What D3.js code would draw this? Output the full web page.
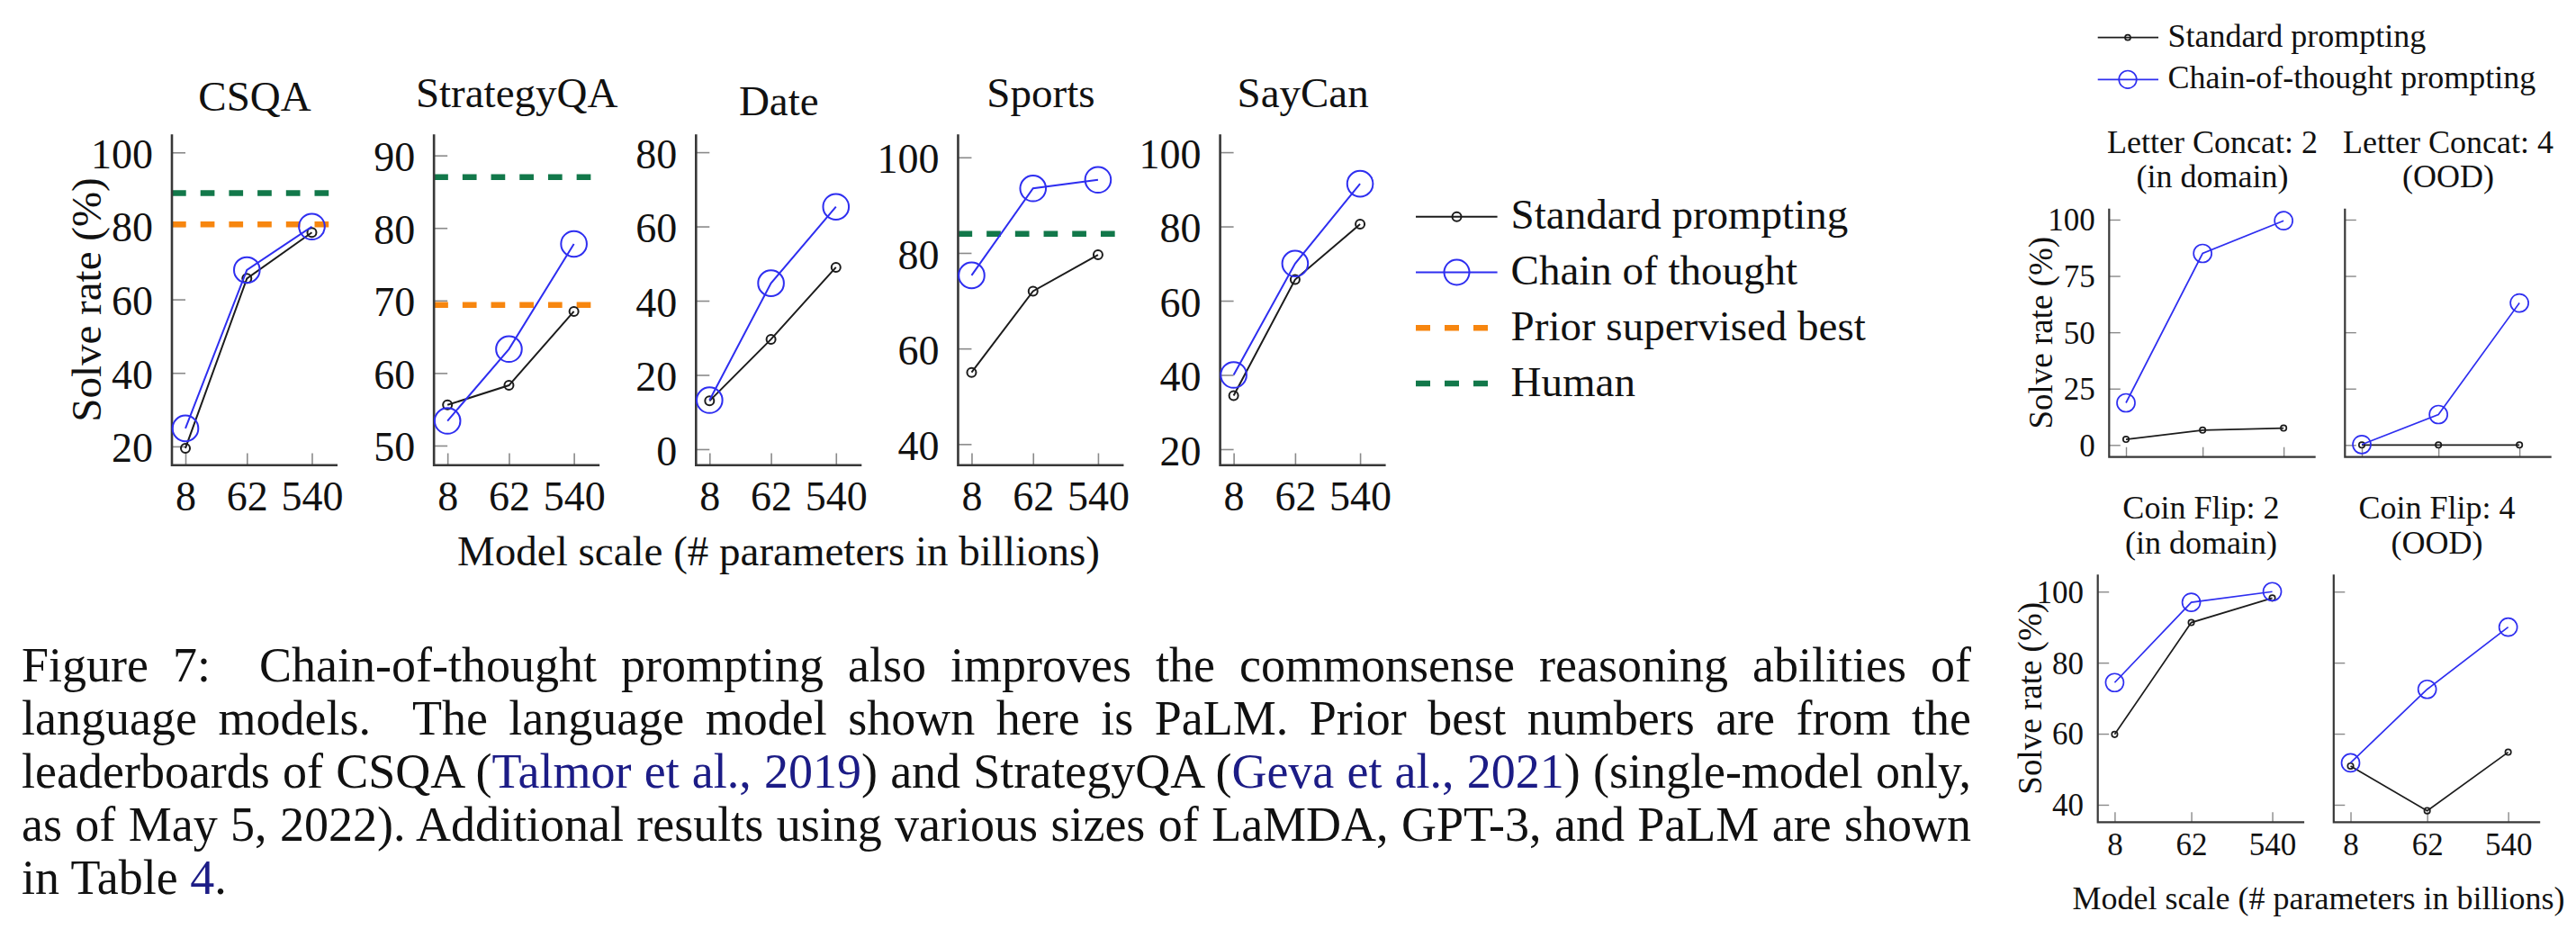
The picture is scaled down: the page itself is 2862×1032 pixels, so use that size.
<!DOCTYPE html>
<html><head><meta charset="utf-8">
<script src="https://cdn.jsdelivr.net/npm/d3@7"></script>
<style>
html,body{margin:0;padding:0;background:#fff;}
svg{display:block;}
</style></head><body>
<svg id="fig" width="2862" height="1032"></svg>
<script>
// ---------------- data ----------------
const modelSizes = [8, 62, 540];
const modelLabels = ["8", "62", "540"];

const leftTitles = ["CSQA", "StrategyQA", "Date", "Sports", "SayCan"];
const leftStandard = [
  [19.5, 65.7, 78.2],
  [55.6, 58.3, 68.5],
  [13.0, 29.6, 49.0],
  [55.0, 72.0, 79.6],
  [34.4, 65.7, 80.6]
];
const leftCoT = [
  [24.9, 68.0, 79.8],
  [53.4, 63.3, 77.8],
  [13.2, 44.7, 65.3],
  [75.3, 93.5, 95.3],
  [40.0, 70.0, 91.5]
];
const leftPriorBest = [80.4, 69.4, null, null, null];
const leftHuman = [88.9, 87.0, null, 84.0, null];
const leftYTicks = [
  [20, 40, 60, 80, 100],
  [50, 60, 70, 80, 90],
  [0, 20, 40, 60, 80],
  [40, 60, 80, 100],
  [20, 40, 60, 80, 100]
];
const leftYDomains = [[14.9, 104.9], [47.3, 92.9], [-4.3, 84.8], [35.6, 104.8], [15.7, 104.8]];
const leftLegend = ["Standard prompting", "Chain of thought", "Prior supervised best", "Human"];

const rightTitles = [
  ["Letter Concat: 2", "(in domain)"],
  ["Letter Concat: 4", "(OOD)"],
  ["Coin Flip: 2", "(in domain)"],
  ["Coin Flip: 4", "(OOD)"]
];
const rightStandard = [
  [2.5, 6.6, 7.5],
  [0, 0, 0],
  [59.8, 91.3, 98.2],
  [50.9, 38.3, 54.8]
];
const rightCoT = [
  [18.7, 85.0, 99.5],
  [0.2, 13.5, 63.0],
  [74.4, 97.0, 100],
  [51.8, 72.5, 90.0]
];
const rightYTicks = [
  [0, 25, 50, 75, 100],
  [0, 25, 50, 75, 100],
  [40, 60, 80, 100],
  [40, 60, 80, 100]
];
const rightYDomains = [[-5.35, 104.9], [-5.35, 104.9], [35.1, 104.8], [35.1, 104.8]];
const rightLegend = ["Standard prompting", "Chain-of-thought prompting"];

const yAxisLabel = "Solve rate (%)";
const xAxisLabel = "Model scale (# parameters in billions)";
const xDomain = [5.1, 1270];

const captionLines = [
  [["Figure 7:  Chain-of-thought prompting also improves the commonsense reasoning abilities of", 0]],
  [["language models.  The language model shown here is PaLM. Prior best numbers are from the", 0]],
  [["leaderboards of CSQA (", 0], ["Talmor et al., 2019", 1], [") and StrategyQA (", 0], ["Geva et al., 2021", 1], [") (single-model only,", 0]],
  [["as of May 5, 2022). Additional results using various sizes of LaMDA, GPT-3, and PaLM are shown", 0]],
  [["in Table ", 0], ["4", 1], [".", 0]]
];

// ---------------- style ----------------
const FONT = '"Liberation Serif","Times New Roman",Times,serif';
const BLUE = "#2e2ef0";
const BLACK = "#1c1c1c";
const ORANGE = "#f7860f";
const GREEN = "#12784a";
const AXIS = "#383838";
const TICK = "#8a8a8a";
const LINK = "#1c1c86";

const svg = d3.select("#fig");

function drawPanel(o) {
  const g = svg.append("g").attr("transform", `translate(${o.x0},${o.top})`);
  const x = d3.scaleLog().domain(xDomain).range([0, o.w]);
  const y = d3.scaleLinear().domain(o.yDomain).range([o.h, 0]);

  const ya = d3.axisLeft(y).tickValues(o.yTicks).tickSizeInner(-o.tick).tickSizeOuter(0)
    .tickPadding(o.yPad).tickFormat(o.showY ? d3.format("d") : () => "");
  const gy = g.append("g").call(ya);
  gy.select(".domain").remove();
  gy.selectAll(".tick line").attr("stroke", TICK).attr("stroke-width", o.tickW);
  gy.selectAll(".tick text").attr("font-family", FONT).attr("font-size", o.tickFont)
    .attr("fill", "#111").attr("dy", o.yDy);

  const xa = d3.axisBottom(x).tickValues(modelSizes).tickSizeInner(-o.tick * 0.88).tickSizeOuter(0)
    .tickFormat((d, i) => o.showX ? modelLabels[i] : "");
  const gx = g.append("g").attr("transform", `translate(0,${o.h})`).call(xa);
  gx.select(".domain").remove();
  gx.selectAll(".tick line").attr("stroke", TICK).attr("stroke-width", o.tickW);
  gx.selectAll(".tick text").attr("font-family", FONT).attr("font-size", o.tickFont)
    .attr("fill", "#111").attr("dy", null).attr("y", o.xLabY);

  const refs = [[o.prior, ORANGE], [o.human, GREEN]];
  refs.forEach(([v, c]) => {
    if (v === null || v === undefined) return;
    g.append("line").attr("x1", 0).attr("x2", o.w).attr("y1", y(v)).attr("y2", y(v))
      .attr("stroke", c).attr("stroke-width", o.dashW).attr("stroke-dasharray", o.dash);
  });

  g.append("path").attr("d", `M0,0V${o.h}H${o.w}`).attr("fill", "none")
    .attr("stroke", AXIS).attr("stroke-width", o.axisW);

  const line = d3.line().x((d, i) => x(modelSizes[i])).y(d => y(d));
  g.append("path").attr("d", line(o.std)).attr("fill", "none").attr("stroke", BLACK).attr("stroke-width", o.lineW);
  g.selectAll(null).data(o.std).join("circle")
    .attr("cx", (d, i) => x(modelSizes[i])).attr("cy", d => y(d)).attr("r", o.rS)
    .attr("fill", "none").attr("stroke", BLACK).attr("stroke-width", o.lineW);
  g.append("path").attr("d", line(o.cot)).attr("fill", "none").attr("stroke", BLUE).attr("stroke-width", o.lineW);
  g.selectAll(null).data(o.cot).join("circle")
    .attr("cx", (d, i) => x(modelSizes[i])).attr("cy", d => y(d)).attr("r", o.rC)
    .attr("fill", "none").attr("stroke", BLUE).attr("stroke-width", o.lineW);

  if (Array.isArray(o.title)) {
    o.title.forEach((t, k) => {
      g.append("text").attr("x", o.w / 2).attr("y", o.titleY[k]).attr("text-anchor", "middle")
        .attr("font-family", FONT).attr("font-size", o.titleFont).attr("fill", "#111").text(t);
    });
  } else {
    const desc = /[gjpqy]/.test(o.title) ? 10.5 : (/Q/.test(o.title) ? 6 : 1.5);
    g.append("text").attr("x", o.w / 2).attr("y", o.titleBottom - desc).attr("text-anchor", "middle")
      .attr("font-family", FONT).attr("font-size", o.titleFont).attr("fill", "#111").text(o.title);
  }

  if (o.yLabel) {
    g.append("text").attr("transform", `translate(${-o.yLabOff},${o.h / 2}) rotate(-90)`)
      .attr("text-anchor", "middle").attr("font-family", FONT).attr("font-size", o.labelFont)
      .attr("fill", "#111").text(yAxisLabel);
  }
}

// ---------------- left figure ----------------
const L = { x0: 191, pitch: 291.15, w: 184, top: 149.3, h: 367.4 };
leftTitles.forEach((t, i) => {
  drawPanel({
    x0: L.x0 + i * L.pitch, top: L.top, w: L.w, h: L.h,
    yDomain: leftYDomains[i], yTicks: leftYTicks[i], showY: true, showX: true,
    std: leftStandard[i], cot: leftCoT[i], prior: leftPriorBest[i], human: leftHuman[i],
    tick: 15, tickW: 1.6, yPad: 21, yDy: "0.37em", xLabY: 50, tickFont: 46,
    dashW: 6.5, dash: "15.7 16", axisW: 2.6, lineW: 2, rS: 5, rC: 14.3,
    title: t, titleBottom: 129 - L.top, titleFont: 47,
    yLabel: i === 0, yLabOff: 79, labelFont: 47
  });
});
svg.append("text").attr("x", 865).attr("y", 628).attr("text-anchor", "middle")
  .attr("font-family", FONT).attr("font-size", 47).attr("fill", "#111").text(xAxisLabel);

const LL = { x1: 1573, x2: 1663.6, mx: 1618.5, tx: 1678.6, y0: 240.7, dy: 61.8 };
leftLegend.forEach((name, k) => {
  const yy = LL.y0 + k * LL.dy;
  const gL = svg.append("g");
  if (k < 2) {
    const c = k === 0 ? BLACK : BLUE;
    gL.append("line").attr("x1", LL.x1).attr("x2", LL.x2).attr("y1", yy).attr("y2", yy)
      .attr("stroke", c).attr("stroke-width", 2);
    gL.append("circle").attr("cx", LL.mx).attr("cy", yy).attr("r", k === 0 ? 5 : 14)
      .attr("fill", "none").attr("stroke", c).attr("stroke-width", 2);
  } else {
    gL.append("line").attr("x1", LL.x1).attr("x2", LL.x2).attr("y1", yy).attr("y2", yy)
      .attr("stroke", k === 2 ? ORANGE : GREEN).attr("stroke-width", 6.5).attr("stroke-dasharray", "16 16");
  }
  gL.append("text").attr("x", LL.tx).attr("y", yy + 13.5).attr("font-family", FONT)
    .attr("font-size", 47).attr("fill", "#111").text(name);
});

// ---------------- right figure ----------------
const R = [
  { x0: 2343.3, top: 231.7, h: 276 },
  { x0: 2605.3, top: 231.7, h: 276 },
  { x0: 2330.7, top: 638.3, h: 275 },
  { x0: 2592.8, top: 638.3, h: 275 }
];
rightTitles.forEach((t, i) => {
  drawPanel({
    x0: R[i].x0, top: R[i].top, w: 229.4, h: R[i].h,
    yDomain: rightYDomains[i], yTicks: rightYTicks[i], showY: i % 2 === 0, showX: i >= 2,
    std: rightStandard[i], cot: rightCoT[i], prior: null, human: null,
    tick: 12.5, tickW: 1.4, yPad: 15.6, yDy: "0.34em", xLabY: 36.7, tickFont: 35,
    dashW: 5, dash: "12 12", axisW: 2.2, lineW: 1.7, rS: 3.2, rC: 10,
    title: t, titleY: [-62, -23.5], titleFont: 36,
    yLabel: i % 2 === 0, yLabOff: 63, labelFont: 37
  });
});
svg.append("text").attr("x", 2576).attr("y", 1010).attr("text-anchor", "middle")
  .attr("font-family", FONT).attr("font-size", 36).attr("fill", "#111").text(xAxisLabel);

const RL = { x1: 2330.7, x2: 2398, mx: 2364, tx: 2408.4, y0: 41.7, dy: 46.6 };
rightLegend.forEach((name, k) => {
  const yy = RL.y0 + k * RL.dy;
  const c = k === 0 ? BLACK : BLUE;
  svg.append("line").attr("x1", RL.x1).attr("x2", RL.x2).attr("y1", yy).attr("y2", yy)
    .attr("stroke", c).attr("stroke-width", 1.7);
  svg.append("circle").attr("cx", RL.mx).attr("cy", yy).attr("r", k === 0 ? 3 : 9.8)
    .attr("fill", "none").attr("stroke", c).attr("stroke-width", 1.7);
  svg.append("text").attr("x", RL.tx).attr("y", yy + 10).attr("font-family", FONT)
    .attr("font-size", 36).attr("fill", "#111").text(name);
});

// ---------------- caption ----------------
const CAP = { x: 24, y0: 757, dy: 59, width: 2166, font: 54 };
captionLines.forEach((parts, i) => {
  const t = svg.append("text").attr("x", CAP.x).attr("y", CAP.y0 + i * CAP.dy)
    .attr("font-family", FONT).attr("font-size", CAP.font).attr("fill", "#111")
    .style("white-space", "pre");
  parts.forEach(([s, link]) => {
    t.append("tspan").attr("fill", link ? LINK : "#111").text(s);
  });
  if (i < captionLines.length - 1) {
    const natural = t.node().getComputedTextLength();
    const full = parts.map(p => p[0]).join("");
    const nSpaces = (full.match(/ /g) || []).length;
    if (nSpaces > 0) t.attr("word-spacing", (CAP.width - natural) / nSpaces);
  }
});
</script>
</body></html>
